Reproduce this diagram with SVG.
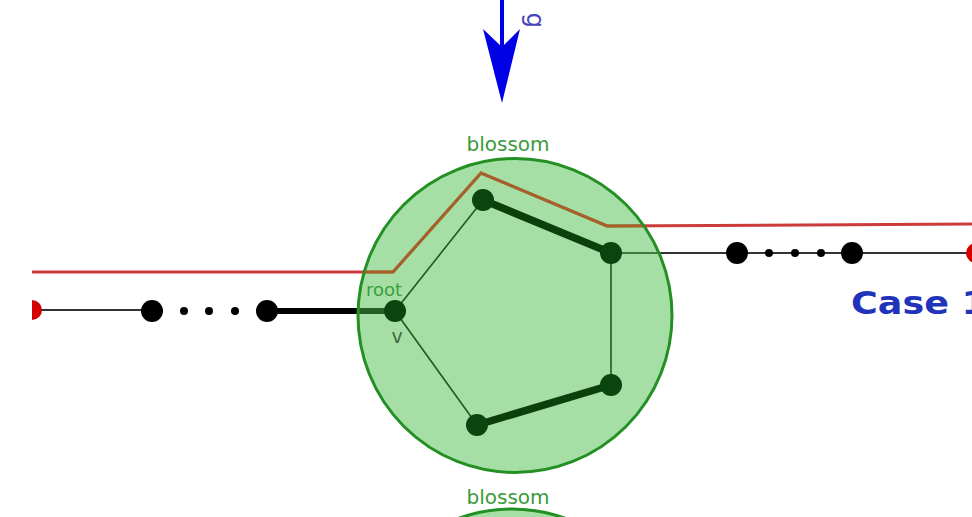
<svg xmlns="http://www.w3.org/2000/svg" width="972" height="517" viewBox="0 0 972 517">
<style>
.thin{stroke:#333;stroke-width:2;fill:none}
.thick{stroke:#000;stroke-width:6;fill:none}
.gthin{stroke:#1d5a1d;stroke-width:1.6;fill:none}
.gthick{stroke:#0b3f0b;stroke-width:7.5;fill:none;stroke-linecap:round}
.red{stroke:#cc3b3b;stroke-width:3;fill:none}
.brown{stroke:#a8602a;stroke-width:3;fill:none}
.bl{fill:#3b9a3b;font-family:"DejaVu Sans",sans-serif;font-size:20px}
.big{fill:#000}
.small{fill:#000}
.gn{fill:#0a450f}
.rn{fill:#d40000}
.blossom{fill:#4cbf4c;fill-opacity:0.5;stroke:#249024;stroke-width:3}
</style>
<defs>
<clipPath id="crop"><rect x="32" y="0" width="940" height="517"/></clipPath>
<clipPath id="inside"><circle cx="515" cy="315.5" r="156"/></clipPath>
</defs>
<rect width="972" height="517" fill="#fff"/>
<g clip-path="url(#crop)">
<g id="connectors">
<polyline class="red" points="32,272 393,272 481,173 607,226 972,224"/>
<line class="thin" x1="32" y1="310" x2="152" y2="310"/>
<line class="thick" x1="267" y1="311" x2="395" y2="311"/>
<line class="thin" x1="611" y1="253" x2="972" y2="253"/>
<line x1="502" y1="0" x2="502" y2="50" stroke="#0000e6" stroke-width="4"/>
<polygon points="483,29 502,47 520,29 502,103" fill="#0000e6"/>
</g>
<g id="blossom-top">
<circle class="blossom" cx="515" cy="315.5" r="157"/>
<text class="bl" x="508" y="151" text-anchor="middle">blossom</text>
</g>
<g id="blossom-bottom">
<circle class="blossom" cx="512" cy="666" r="157"/>
<text class="bl" x="508" y="504" text-anchor="middle">blossom</text>
</g>
<polyline class="brown" clip-path="url(#inside)" points="32,272 393,272 481,173 607,226 972,224"/>
<g id="cycle-edges">
<line class="gthin" x1="395" y1="311" x2="483" y2="200"/>
<line class="gthin" x1="611" y1="253" x2="611" y2="385"/>
<line class="gthin" x1="395" y1="311" x2="477" y2="425"/>
<line class="gthick" x1="483" y1="200" x2="611" y2="253"/>
<line class="gthick" x1="611" y1="385" x2="477" y2="425"/>
</g>
<g id="node-left-red"><circle class="rn" cx="32" cy="310" r="10"/></g>
<g id="node-left-1"><circle class="big" cx="152" cy="311" r="11"/></g>
<g id="dots-left"><circle class="small" cx="184" cy="311" r="4"/><circle class="small" cx="209" cy="311" r="4"/><circle class="small" cx="235" cy="311" r="4"/></g>
<g id="node-left-2"><circle class="big" cx="267" cy="311" r="11"/></g>
<g id="node-v"><circle class="gn" cx="395" cy="311" r="11"/>
<text x="384" y="296" text-anchor="middle" font-family="DejaVu Sans, sans-serif" font-size="18" fill="#3aa03a">root</text>
<text x="397" y="343" text-anchor="middle" font-family="DejaVu Sans, sans-serif" font-size="19" fill="#3d6b3d">v</text>
</g>
<g id="node-a"><circle class="gn" cx="483" cy="200" r="11"/></g>
<g id="node-b"><circle class="gn" cx="611" cy="253" r="11"/></g>
<g id="node-c"><circle class="gn" cx="611" cy="385" r="11"/></g>
<g id="node-d"><circle class="gn" cx="477" cy="425" r="11"/></g>
<g id="node-right-1"><circle class="big" cx="737" cy="253" r="11"/></g>
<g id="dots-right"><circle class="small" cx="769" cy="253" r="4"/><circle class="small" cx="795" cy="253" r="4"/><circle class="small" cx="821" cy="253" r="4"/></g>
<g id="node-right-2"><circle class="big" cx="852" cy="253" r="11"/></g>
<g id="node-right-red"><circle class="rn" cx="976" cy="253" r="10"/></g>
<text x="851" y="314" font-family="DejaVu Sans, sans-serif" font-weight="bold" font-size="32" fill="#2233bb" textLength="136" lengthAdjust="spacingAndGlyphs">Case 1</text>
<text transform="translate(527,28) rotate(90)" text-anchor="end" font-family="DejaVu Sans, sans-serif" font-size="24" fill="#4444bb">g</text>
</g>
</svg>
